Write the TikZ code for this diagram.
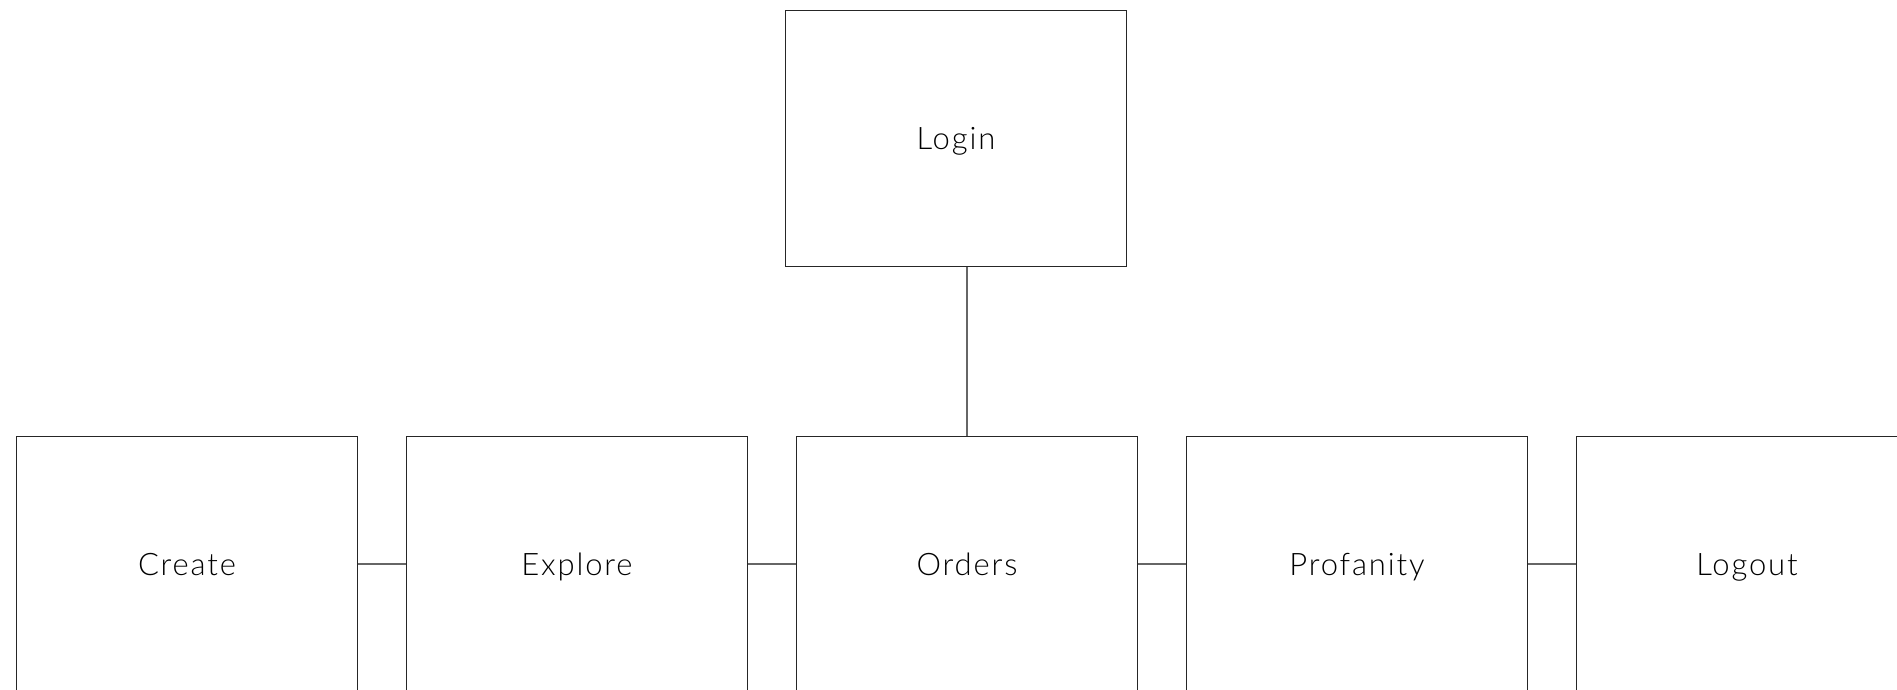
\documentclass[tikz,border=0pt]{standalone}
\usepackage{fontspec}
\setmainfont{Lato}[UprightFont=* Light,LetterSpace=6]
\begin{document}
\begin{tikzpicture}[x=1pt,y=-1pt,
  box/.style={draw=black!85,line width=1pt,minimum width=341.5pt,minimum height=256pt,inner sep=0pt,
    font=\fontsize{31}{34}\selectfont,text=black,text height=22pt,text depth=0pt},
  link/.style={draw=black!60,line width=1.2pt}]
\clip (0,0) rectangle (1897,689);
\fill[white] (0,0) rectangle (1897,689);
\node[box] (login) at (956,138) {Login};
\node[box] (create) at (187,564) {Create};
\node[box] (explore) at (577,564) {Explore};
\node[box] (orders) at (967,564) {Orders};
\node[box] (profanity) at (1357,564) {Profanity};
\node[box] (logout) at (1747,564) {Logout};
\draw[link] (orders.north) -- (orders.north |- login.south);
\draw[link] (create.east) -- (explore.west);
\draw[link] (explore.east) -- (orders.west);
\draw[link] (orders.east) -- (profanity.west);
\draw[link] (profanity.east) -- (logout.west);
\end{tikzpicture}
\end{document}
